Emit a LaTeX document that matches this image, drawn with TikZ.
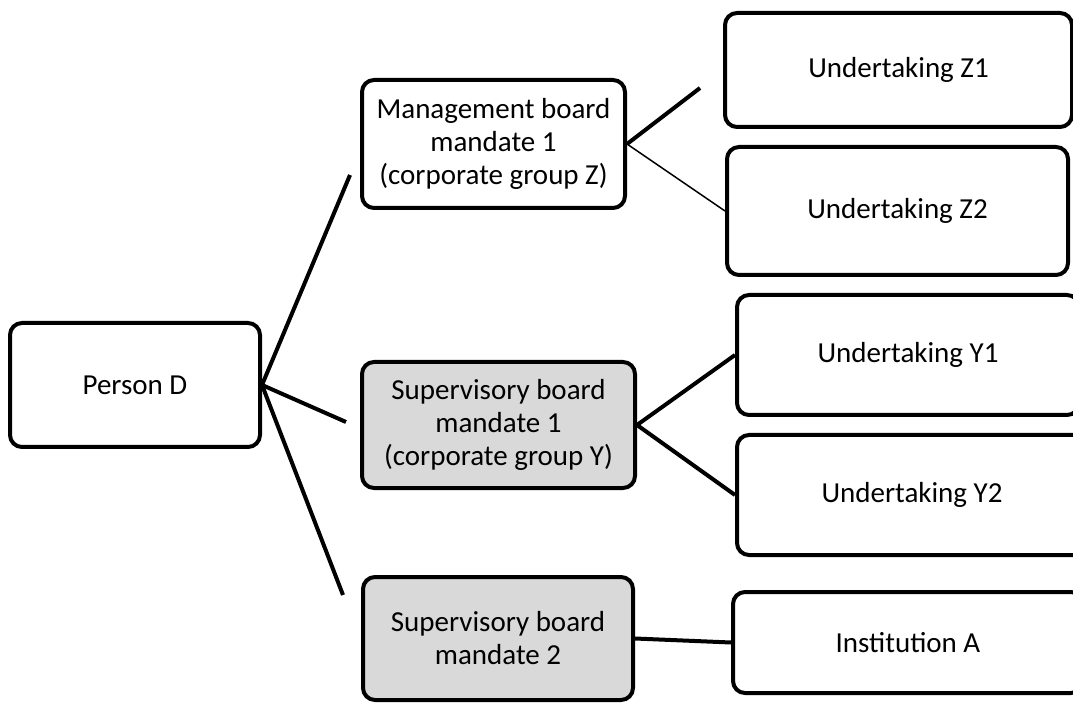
\documentclass[tikz,border=0pt]{standalone}
\usepackage{fontspec}
\setmainfont{Carlito}
\usepackage{tikz}
\usetikzlibrary{shapes,positioning}
\tikzstyle{person} = [rectangle, rounded corners=12pt, line width=4pt, draw=black, fill=white, align=center, font=\fontsize{29}{33}\selectfont]
\tikzstyle{mandate} = [person, fill=white]
\tikzstyle{supervisory} = [person, fill=black!15]
\tikzstyle{undertaking} = [person]
\tikzstyle{link} = [line width=4pt]
\tikzstyle{thinlink} = [line width=1.5pt]

\begin{document}
\begin{tikzpicture}[x=1pt, y=1pt]
\useasboundingbox (0,0) rectangle (1073,702);
\node (persd) [person, minimum width=250pt, minimum height=124pt] at (135,317) {Person D};
\node (mgmt1) [mandate, minimum width=263pt, minimum height=128pt] at (493.5,558) {Management board\\mandate 1\\(corporate group Z)};
\node (sup1) [supervisory, minimum width=273pt, minimum height=126pt] at (498.5,277) {Supervisory board\\mandate 1\\(corporate group Y)};
\node (sup2) [supervisory, minimum width=270pt, minimum height=123pt] at (498,63.5) {Supervisory board\\mandate 2};
\node (undz1) [undertaking, minimum width=347pt, minimum height=114pt] at (898.5,632) {Undertaking Z1};
\node (undz2) [undertaking, minimum width=341pt, minimum height=128pt] at (897.5,491) {Undertaking Z2};
\node (undy1) [undertaking, minimum width=342pt, minimum height=120pt] at (908,347) {Undertaking Y1};
\node (undy2) [undertaking, minimum width=350pt, minimum height=120pt] at (912,207) {Undertaking Y2};
\node (insta) [undertaking, minimum width=350pt, minimum height=101pt] at (908,59.5) {Institution A};
% loose ends of the connectors
\coordinate (mgmt1in) at ([xshift=-10pt,yshift=-31pt]mgmt1.west);
\coordinate (sup1in) at ([xshift=-14pt,yshift=3pt]sup1.west);
\coordinate (sup2in) at ([xshift=-18pt,yshift=-20pt]sup2.north west);
\coordinate (undz1in) at ([xshift=-23pt,yshift=-18pt]undz1.west);
\draw [link] (persd.east) -- (mgmt1in);
\draw [link] (persd.east) -- (sup1in);
\draw [link] (persd.east) -- (sup2in);
\draw [link] (mgmt1.east) -- (undz1in);
\draw [thinlink] (mgmt1.east) -- (undz2.west);
\draw [link] (sup1.east) -- (undy1.west);
\draw [link] (sup1.east) -- (undy2.west);
\draw [link] (sup2.east) -- (insta.west);
\end{tikzpicture}
\end{document}
